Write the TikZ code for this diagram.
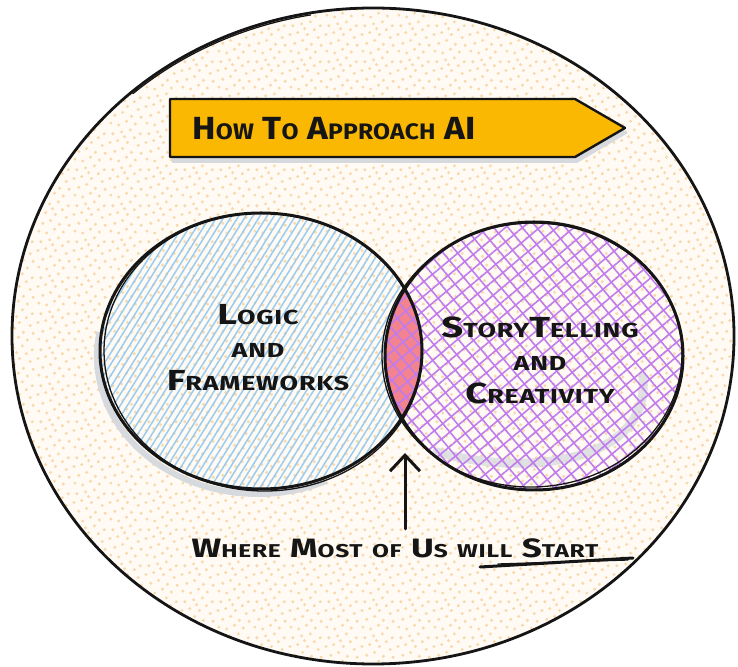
\documentclass[tikz,border=0pt]{standalone}
\usepackage{fontspec}
\newfontfamily\hand{Fira Sans}[FakeStretch=1.32, LetterSpace=4]
\newfontfamily\handtight{Fira Sans}[FakeStretch=1.1, LetterSpace=1]
\usetikzlibrary{arrows.meta,patterns.meta}

\definecolor{inkblack}{HTML}{151515}
\definecolor{cream}{HTML}{FFFBF4}
\definecolor{dotpeach}{HTML}{F8D9AE}
\definecolor{banneryellow}{HTML}{FAB802}
\definecolor{shadowgray}{HTML}{D6D9DD}
\definecolor{hatchblue}{HTML}{9ACBF0}
\definecolor{hatchpurple}{HTML}{C07CEE}
\definecolor{lenspink}{HTML}{F3838E}

% small capitals by hand
\newcommand\lc[1]{\scalebox{0.7}{\MakeUppercase{#1}}}

\tikzdeclarepattern{
  name=specks,
  type=colored,
  bottom left={(0pt,0pt)},
  top right={(36pt,36pt)},
  tile size={(36pt,36pt)},
  code={
    \foreach \px/\py in {3/4,11/2,19/6,28/3,34/10,7/12,15/15,24/11,31/18,2/21,
                         10/23,20/21,27/26,5/30,14/32,23/34,33/30,17/27}
      \fill[dotpeach] (\px pt,\py pt) circle (1.7pt);
  }
}

\begin{document}
\begin{tikzpicture}[x=1pt,y=1pt,
    ink/.style={draw=inkblack, line width=3pt, line cap=round, line join=round},
    inkthin/.style={draw=inkblack, line width=1.3pt, line cap=round},
    handtext/.style={font=\hand\bfseries\fontsize{29}{33}\selectfont, align=center, text=inkblack},
    headline/.style={handtext, font=\handtight\bfseries\fontsize{32}{36}\selectfont},
    pointer/.style={ink, -{Straight Barb[length=16pt,width=30pt]}}]
  \useasboundingbox (0,0) rectangle (738,666);
  \clip (0,0) rectangle (738,666);

  % backdrop
  \fill[cream] (373,330) ellipse [x radius=361, y radius=328];
  \fill[pattern=specks] (373,330) ellipse [x radius=361, y radius=328];
  \draw[ink, line width=2.8pt] (373,330) ellipse [x radius=361, y radius=328];
  \draw[inkthin] (373,330) ++(100:359 and 326) arc [start angle=100, end angle=132, x radius=359, y radius=326];

  % banner
  \fill[shadowgray] (172,503) -- (577,503) -- (628,533) -- (577,561) -- (172,561) -- cycle;
  \filldraw[ink, fill=banneryellow, line width=2.4pt]
    (170,509) -- (575,509) -- (625,538) -- (575,567) -- (170,567) -- cycle;
  \node[headline] (title) at (334,537) {H\lc{ow} T\lc{o} A\lc{pproach} AI};

  % shadows
  \draw[shadowgray, line width=6pt] (258,310) ++(170:161 and 138)
    arc [start angle=170, end angle=295, x radius=161, y radius=138];

  % fills
  \fill[pattern={Lines[angle=58,distance=6pt,line width=1.5pt]}, pattern color=hatchblue]
    (261,315) ellipse [x radius=161, y radius=138];
  \begin{scope}
    \clip (261,315) ellipse [x radius=161, y radius=138];
    \fill[lenspink] (534,310) ellipse [x radius=149, y radius=134];
  \end{scope}
  \draw[shadowgray, line width=9pt, line cap=round, opacity=.75]
    (437,214) .. controls (520,190) and (650,200) .. (643,289);
  \fill[pattern={Lines[angle=40,distance=11pt,line width=1.6pt]}, pattern color=hatchpurple]
    (534,310) ellipse [x radius=149, y radius=134];
  \fill[pattern={Lines[angle=-50,distance=11pt,line width=1.6pt]}, pattern color=hatchpurple]
    (534,310) ellipse [x radius=149, y radius=134];

  % outlines
  \draw[ink] (261,315) ellipse [x radius=161, y radius=138];
  \draw[inkthin] (263,314) ellipse [x radius=159, y radius=139, rotate=-2];
  \draw[ink] (534,310) ellipse [x radius=149, y radius=134];
  \draw[inkthin] (532,311) ellipse [x radius=150, y radius=132, rotate=2];

  % labels
  \node[handtext] (logic) at (258,318) {L\lc{ogic}\\\lc{and}\\F\lc{rameworks}};
  \node[handtext] (story) at (540,306) {S\lc{tory}T\lc{elling}\\\lc{and}\\C\lc{reativity}};
  \node[handtext, font=\hand\bfseries\fontsize{26.5}{30}\selectfont] (where) at (395,118)
    {W\lc{here} M\lc{ost} \lc{of} U\lc{s} \lc{will} S\lc{tart}};

  \coordinate (meet) at (405,213);
  \draw[pointer] ([yshift=6pt]where.north -| meet) -- (meet);
  \draw[ink] (480,99) -- (633,108);
  \draw[inkthin] (498,102) -- (628,106);
\end{tikzpicture}
\end{document}
